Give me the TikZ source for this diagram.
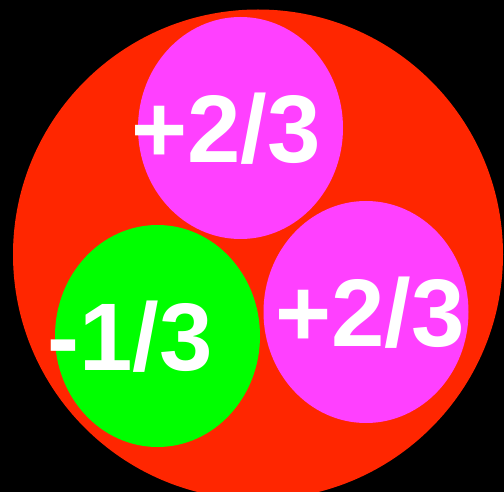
\documentclass[tikz,border=0pt]{standalone}
\usepackage{fontspec}
\setmainfont{Liberation Sans}
\usetikzlibrary{shapes.geometric}
\definecolor{quarkred}{RGB}{255,38,0}
\definecolor{quarkmag}{RGB}{255,64,255}
\definecolor{quarkgreen}{RGB}{0,255,0}
\tikzset{
  quark/.style={ellipse, inner sep=0pt, minimum width=205pt, minimum height=222pt},
  charge/.style={anchor=base west, inner sep=0pt, text=white, font=\fontsize{96}{96}\selectfont\bfseries}
}
\begin{document}
\begin{tikzpicture}[x=1pt,y=-1pt]
\useasboundingbox (0,0) rectangle (504,492);
\clip (0,0) rectangle (504,492);
\fill[black] (0,0) rectangle (504,492);
\node[circle, fill=quarkred, inner sep=0pt, minimum size=490pt] (proton) at (258,254.5) {};
\node[quark, fill=quarkmag] (up1) at (240.5,128) {};
\node[quark, fill=quarkmag] (up2) at (366,312) {};
\node[quark, fill=quarkgreen] (down) at (157.5,336) {};
\node[charge] (t1) at (131,163) {+2/3};
\node[charge] (t2) at (275,346) {+2/3};
\node[charge] (t3) at (47,370) {-1/3};
\end{tikzpicture}
\end{document}
